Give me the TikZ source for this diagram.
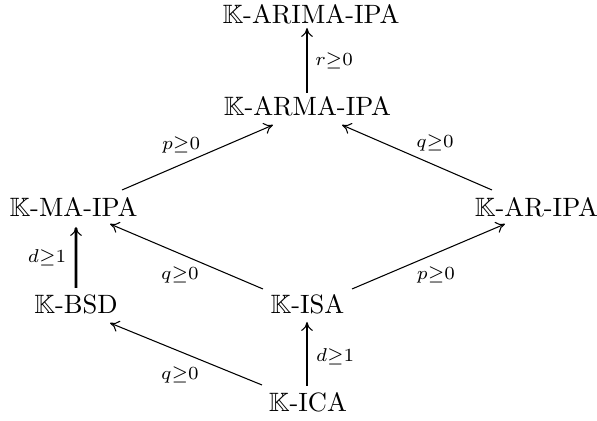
\documentclass[tikz,border=0pt]{standalone}
\usepackage{amssymb}
\usetikzlibrary{arrows.meta,calc}
\begin{document}
\begin{tikzpicture}[x=0.377pt,y=-0.377pt,
  obj/.style={inner sep=0pt, font=\normalsize},
  lab/.style={font=\scriptsize, inner sep=0pt},
  tipstyle/.style={-{Computer Modern Rightarrow[line width=0.4pt,length=3.4pt,width=4.4pt]}},
  diag/.style={tipstyle, line width=0.4pt},
  vert/.style={tipstyle, line width=1.1pt}]
\useasboundingbox (0,0) rectangle (597,421);
\node[obj] (ARIMA) at (311,14.5) {$\mathbb{K}$-ARIMA-IPA};
\node[obj] (ARMA) at (307.5,106) {$\mathbb{K}$-ARMA-IPA};
\node[obj] (MA) at (73.5,207) {$\mathbb{K}$-MA-IPA};
\node[obj] (AR) at (536.5,207) {$\mathbb{K}$-AR-IPA};
\node[obj] (BSD) at (76,304) {$\mathbb{K}$-BSD};
\node[obj] (ISA) at (307.5,304) {$\mathbb{K}$-ISA};
\node[obj] (ICA) at (308,402) {$\mathbb{K}$-ICA};
% vertical arrows
\draw[vert] ($(ARMA)+(-0.5,-13)$) -- ($(ARIMA)+(-4,13.5)$)
  node[lab, midway, xshift=10.2pt] {$r{\geq}0$};
\draw[vert] ($(BSD)+(0,-16)$) -- ($(MA)+(2.5,20)$)
  node[lab, midway, xshift=-10.9pt] {$d{\geq}1$};
\draw[vert] ($(ICA)+(-1,-16)$) -- ($(ISA)+(-0.5,18)$)
  node[lab, midway, xshift=10.6pt, yshift=-1.1pt] {$d{\geq}1$};
% diagonal arrows
\draw[diag] ($(MA)+(48.5,-17)$) -- ($(ARMA)+(-34.5,19)$)
  node[lab, pos=0.5, xshift=-6.2pt, yshift=4.7pt] {$p{\geq}0$};
\draw[diag] ($(AR)+(-44.5,-17)$) -- ($(ARMA)+(34.5,19)$)
  node[lab, pos=0.5, xshift=6.8pt, yshift=5.5pt] {$q{\geq}0$};
\draw[diag] ($(ISA)+(-44.5,-15)$) -- ($(MA)+(36.5,17)$)
  node[lab, pos=0.5, xshift=-2.45pt, yshift=-7pt] {$q{\geq}0$};
\draw[diag] ($(ISA)+(44.5,-15)$) -- ($(AR)+(-31.5,17)$)
  node[lab, pos=0.5, xshift=2.8pt, yshift=-7pt] {$p{\geq}0$};
\draw[diag] ($(ICA)+(-46,-17)$) -- ($(BSD)+(34,19)$)
  node[lab, pos=0.5, xshift=-2.3pt, yshift=-7.9pt] {$q{\geq}0$};
\end{tikzpicture}
\end{document}
